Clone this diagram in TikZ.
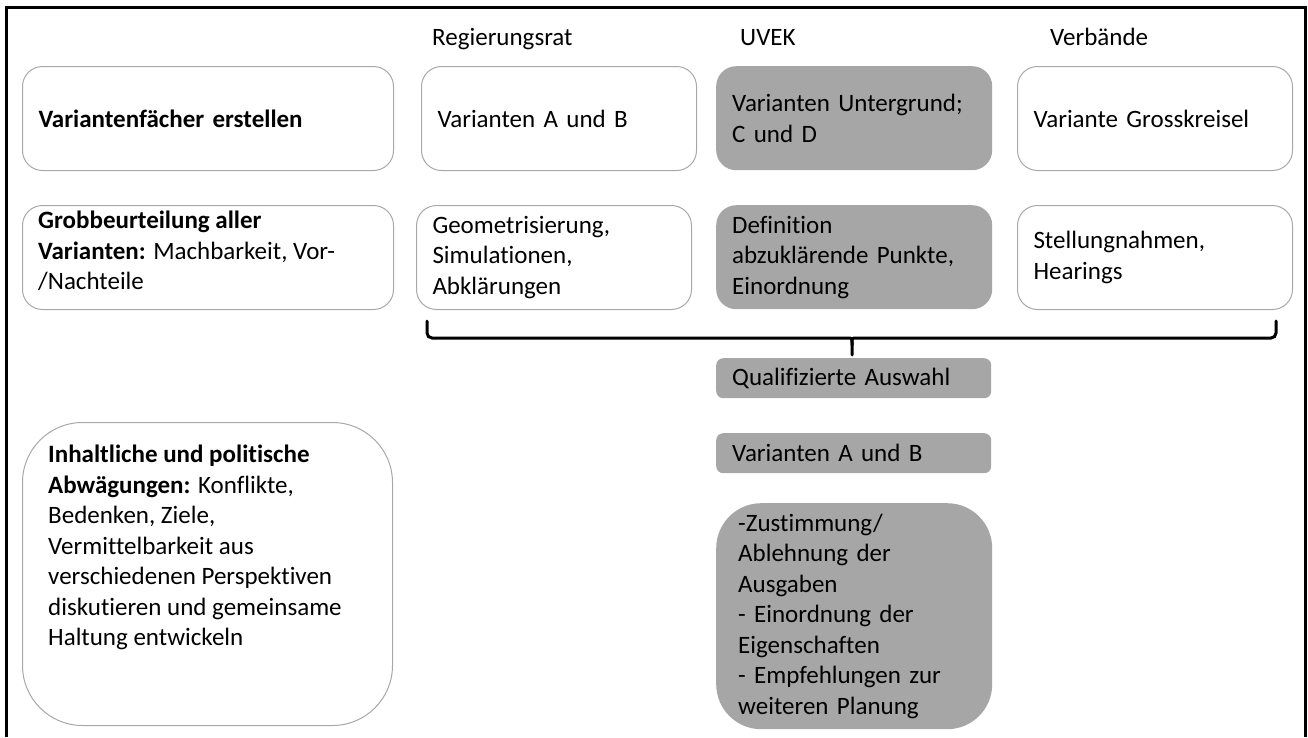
\documentclass[tikz,border=0pt]{standalone}
\usepackage{fontspec}
\setmainfont{Carlito}[Ligatures={NoCommon}]
\definecolor{boxgray}{HTML}{A8A8A8}
\definecolor{fillgray}{HTML}{A6A6A6}
\begin{document}
\begin{tikzpicture}[x=1pt,y=-1pt,
  every node/.style={font=\fontsize{25}{30.5}\selectfont, text=black},
  wbox/.style={draw=boxgray, line width=1pt, fill=white, rounded corners=20pt,
    anchor=north west, align=left, inner xsep=16pt, inner ysep=0pt,
    minimum height=104pt, text width=#1},
  gbox/.style={fill=fillgray, rounded corners=20pt,
    anchor=north west, align=left, inner xsep=16pt, inner ysep=0pt,
    minimum height=104pt, text width=#1},
  sbox/.style={fill=fillgray, rounded corners=7pt,
    anchor=north west, align=left, inner xsep=16pt, inner ysep=0pt,
    minimum height=40pt, text width=243pt},
  head/.style={anchor=base west, inner sep=0pt},
  txt/.style={anchor=north west, align=left, inner sep=0pt},
  frame/.style={line width=3pt},
  brace/.style={line width=3pt, line cap=round, rounded corners=5pt}
]
\useasboundingbox (0,0) rectangle (1308,737);
% frame
\coordinate (fbl) at (6,737);
\coordinate (ftl) at (6,7);
\coordinate (ftr) at (1305,7);
\coordinate (fbr) at (1305,737);
\draw[frame] (fbl) -- (ftl) -- (ftr) -- (fbr);

% headers
\node[head] (hr) at (432,45) {Regierungsrat};
\node[head] (hu) at (740,45) {UVEK};
\node[head] (hv) at (1050,45) {Verbände};

% row 1
\node[wbox=339pt] (l1) at (22,66) {\textbf{Variantenfächer erstellen}};
\node[wbox=243pt] (r1) at (421,66) {Varianten A und B};
\node[gbox=244pt] (u1) at (716,66) {Varianten Untergrund;\\C und D};
\node[wbox=243pt] (v1) at (1017,66) {Variante Grosskreisel};

% row 2
\node[wbox=339pt] (l2) at (22,205) {};
\node[txt] (l2t) at (38,211) {\textbf{Grobbeurteilung aller}\\\textbf{Varianten:} Machbarkeit, Vor-\\/Nachteile};
\node[wbox=243pt] (r2) at (416,205) {Geometrisierung,\\Simulationen,\\Abklärungen};
\node[gbox=244pt] (u2) at (716,205) {Definition\\abzuklärende Punkte,\\Einordnung};
\node[wbox=243pt] (v2) at (1017,205) {Stellungnahmen,\\Hearings};

% brace
\coordinate (bl) at (427,321);
\coordinate (br) at (1276,321);
\coordinate (bm) at (852,355);
\draw[brace] (bl) -- (427,338) -- (845,338) [sharp corners] .. controls (852,338) .. (852,345) -- (bm);
\draw[brace] (br) -- (1276,338) -- (859,338) [sharp corners] .. controls (852,338) .. (852,345);

% middle column
\node[sbox] (qa) at (716,358) {Qualifizierte Auswahl};
\node[sbox] (vab) at (716,433) {Varianten A und B};
\node[fill=fillgray, rounded corners=45pt, anchor=north west, align=left,
  inner xsep=22pt, inner ysep=0pt, minimum height=226pt, text width=232pt] (zu) at (716,503)
  {-Zustimmung/\\Ablehnung der\\Ausgaben\\- Einordnung der\\Eigenschaften\\- Empfehlungen zur\\weiteren Planung};

% big left box
\node[draw=boxgray, line width=1pt, fill=white, rounded corners=60pt, anchor=north west,
  minimum width=370pt, minimum height=303pt, inner sep=0pt] (lb) at (22,422) {};
\node[txt] (lbt) at (48,445) {\textbf{Inhaltliche und politische}\\\textbf{Abwägungen:} Konflikte,\\Bedenken, Ziele,\\Vermittelbarkeit aus\\verschiedenen Perspektiven\\diskutieren und gemeinsame\\Haltung entwickeln};
\end{tikzpicture}
\end{document}
